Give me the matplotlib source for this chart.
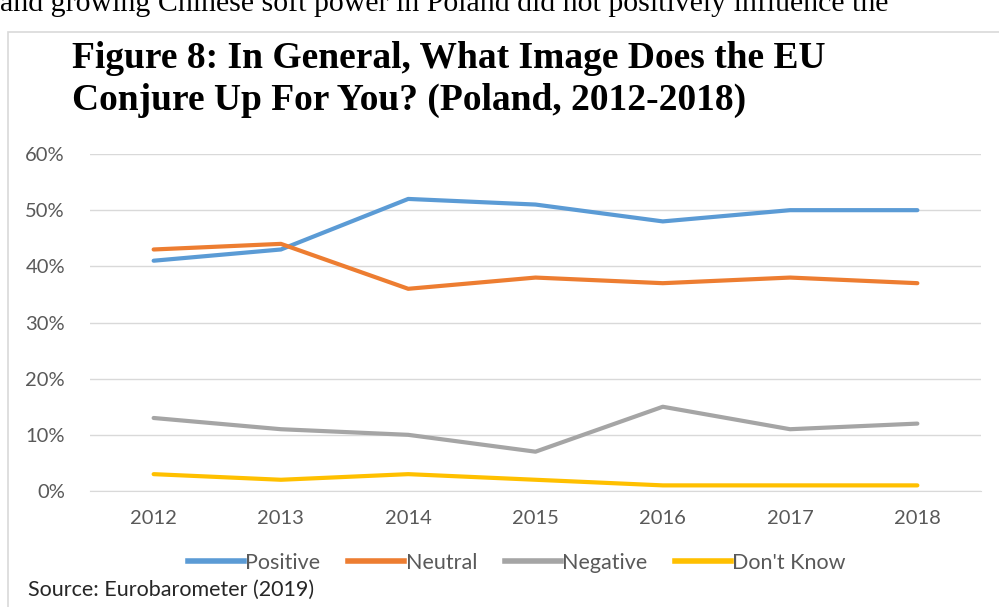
import matplotlib.pyplot as plt
from matplotlib.ticker import PercentFormatter
from matplotlib.lines import Line2D

years = ['2012', '2013', '2014', '2015', '2016', '2017', '2018']
positive = [41, 43, 52, 51, 48, 50, 50]
neutral = [43, 44, 36, 38, 37, 38, 37]
negative = [13, 11, 10, 7, 15, 11, 12]
dont_know = [3, 2, 3, 2, 1, 1, 1]
series_names = ['Positive', 'Neutral', 'Negative', "Don't Know"]
colors = ['#5b9bd5', '#ed7d31', '#a5a5a5', '#ffc000']

fig = plt.figure(figsize=(9.99, 6.07), dpi=100)

# page text cut off above the chart
fig.text(0.0, 1.0 - 11/607, 'and growing Chinese soft power in Poland did not positively influence the',
         family='Liberation Serif', fontsize=21.5, va='baseline', ha='left')

# chart frame
frame = plt.Rectangle((8/999, -0.1), 1.1, 1.1 - 32/607, transform=fig.transFigure,
                      fill=False, edgecolor='#d9d9d9', lw=1.2)
fig.add_artist(frame)

fig.text(72/999, 1 - 58/607, 'Figure 8: In General, What Image Does the EU',
         family='Liberation Serif', weight='bold', fontsize=27, va='center', ha='left')
fig.text(72/999, 1 - 100/607, 'Conjure Up For You? (Poland, 2012-2018)',
         family='Liberation Serif', weight='bold', fontsize=27, va='center', ha='left')

ax = fig.add_axes([90/999, 1 - 491/607, 891/999, (491 - 154)/607])
x = range(len(years))
for vals, name, c in zip([positive, neutral, negative, dont_know], series_names, colors):
    ax.plot(x, vals, color=c, lw=3.0, solid_capstyle='round', label=name)

ax.set_xlim(-0.5, 6.5)
ax.set_ylim(0, 60)
ax.set_yticks(range(0, 61, 10))
ax.yaxis.set_major_formatter(PercentFormatter(decimals=0))
ax.set_xticks(list(x))
ax.set_xticklabels(years)
ax.grid(axis='y', color='#d9d9d9', lw=1)
ax.set_axisbelow(True)
for s in ax.spines.values():
    s.set_visible(False)
ax.spines['bottom'].set_visible(True)
ax.spines['bottom'].set_color('#d9d9d9')
ax.tick_params(length=0, colors='#595959', labelsize=14.5)
for lab in ax.get_xticklabels() + ax.get_yticklabels():
    lab.set_family('Lato')
ax.tick_params(axis='y', pad=18)
ax.tick_params(axis='x', pad=14)

handles = [Line2D([], [], color=c, lw=4) for c in colors]
fig.legend(handles, series_names, loc='center', bbox_to_anchor=(517/999, 1 - 563/607),
           ncol=4, frameon=False, handlelength=2.6, handletextpad=0.05, columnspacing=1.3,
           prop={'family': 'Lato', 'size': 15.5}, labelcolor='#595959')

fig.text(28/999, 1 - 590/607, 'Source: Eurobarometer (2019)', family='Lato', fontsize=15.5,
         va='center', ha='left', color='#262626')

fig.savefig('out.png', dpi=100)
